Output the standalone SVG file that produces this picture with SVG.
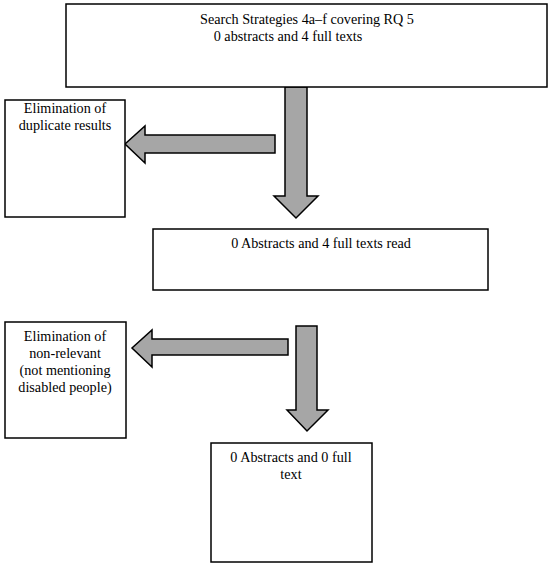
<svg xmlns="http://www.w3.org/2000/svg" width="550" height="567" viewBox="0 0 550 567">
<style>
.box{fill:#fff;stroke:#000;stroke-width:1.5}
.arr{fill:#a6a6a6;stroke:#000;stroke-width:1.5;stroke-linejoin:miter}
text{font-family:"Liberation Serif","DejaVu Serif",serif;font-size:14.2px;fill:#000;text-anchor:middle}
</style>
<rect width="550" height="567" fill="#fff"/>
<g id="connectors">
<polygon class="arr" points="287,87 307,87 307,196 318,196 296,218 274,196 285,196 285,87"/>
<polygon class="arr" points="275,135 275,153 145,153 145,163 125,144 145,126 145,135"/>
<polygon class="arr" points="288,339 288,355 152,355 152,367 132,348 152,330 152,339"/>
<polygon class="arr" points="296,326 317,326 317,410 328,410 307,431 287,410 296,410"/>
</g>
<g id="n1">
<rect class="box" x="66" y="4" width="481" height="83"/>
<text x="307" y="24">Search Strategies 4a–f covering RQ 5</text>
<text x="288" y="41">0 abstracts and 4 full texts</text>
</g>
<g id="n2">
<rect class="box" x="5" y="100" width="120" height="117"/>
<text x="65" y="113">Elimination of</text>
<text x="65" y="130">duplicate results</text>
</g>
<g id="n3">
<rect class="box" x="153" y="229" width="335" height="61"/>
<text x="321" y="248">0 Abstracts and 4 full texts read</text>
</g>
<g id="n4">
<rect class="box" x="5" y="322" width="121" height="116"/>
<text x="65" y="341">Elimination of</text>
<text x="65" y="358">non-relevant</text>
<text x="65" y="375">(not mentioning</text>
<text x="65" y="392">disabled people)</text>
</g>
<g id="n5">
<rect class="box" x="211" y="443" width="161" height="119"/>
<text x="291" y="462">0 Abstracts and 0 full</text>
<text x="291" y="479">text</text>
</g>
</svg>
